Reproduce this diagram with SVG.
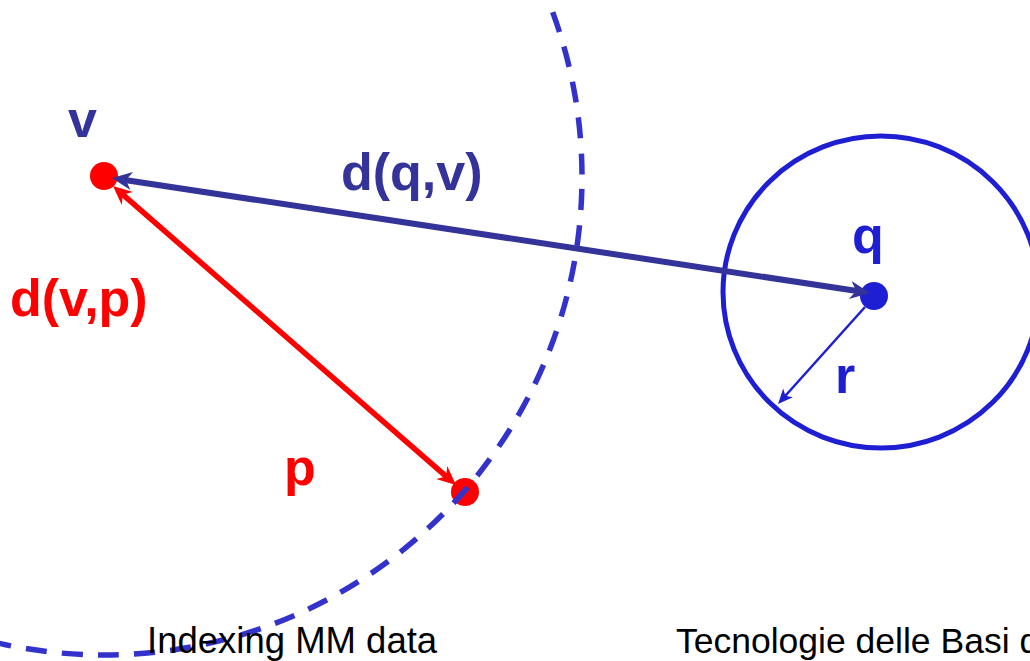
<svg xmlns="http://www.w3.org/2000/svg" width="1030" height="661" viewBox="0 0 1030 661">
  <style>
    .lbl { font-family: "Liberation Sans", Arial, sans-serif; font-weight: bold; font-size: 52px; }
    .foot { font-family: "Liberation Sans", Arial, sans-serif; fill: #000; }
    .navy { fill: #333399; }
    .blue { fill: #1E1ED2; }
    .red { fill: #FF0000; }
  </style>
  <defs>
    <marker id="headNavy" markerUnits="userSpaceOnUse" markerWidth="30" markerHeight="30" viewBox="-24 -15 30 30" refX="-8" refY="0" orient="auto-start-reverse">
      <path d="M0,0 L-20,-9 L-14,0 L-20,9 Z" fill="#333399"/>
    </marker>
    <marker id="headRed" markerUnits="userSpaceOnUse" markerWidth="30" markerHeight="30" viewBox="-24 -15 30 30" refX="-7" refY="0" orient="auto-start-reverse">
      <path d="M0,0 L-19,-8.5 L-13,0 L-19,8.5 Z" fill="#FF0000"/>
    </marker>
    <marker id="headBlue" markerUnits="userSpaceOnUse" markerWidth="24" markerHeight="24" viewBox="-18 -12 24 24" refX="-4" refY="0" orient="auto">
      <path d="M0,0 L-15,-6.5 L-11,0 L-15,6.5 Z" fill="#1E1ED2"/>
    </marker>
  </defs>
  <rect width="1030" height="661" fill="#FFFFFF"/>

  <g id="node-v">
    <circle cx="104" cy="176" r="14" class="red"/>
    <text x="68" y="137" class="lbl navy">v</text>
  </g>

  <g id="node-q">
    <ellipse cx="881" cy="292" rx="158" ry="156" fill="none" stroke="#1E1ED2" stroke-width="5"/>
    <circle cx="874" cy="296" r="14" class="blue"/>
    <text x="852" y="253" class="lbl blue">q</text>
  </g>

  <g id="connectors" fill="none">
    <line x1="119.9" y1="179.2" x2="862.1" y2="291.8" stroke="#333399" stroke-width="6" marker-start="url(#headNavy)" marker-end="url(#headNavy)"/>
    <line x1="118.3" y1="190.6" x2="450.7" y2="480.4" stroke="#FF0000" stroke-width="5.5" marker-start="url(#headRed)" marker-end="url(#headRed)"/>
    <line x1="865" y1="307" x2="780.7" y2="401" stroke="#1E1ED2" stroke-width="2.5" marker-end="url(#headBlue)"/>
    <text x="341" y="190" class="lbl navy">d(q,v)</text>
    <text x="10" y="316" class="lbl red">d(v,p)</text>
    <text x="835" y="393" class="lbl blue">r</text>
  </g>

  <g id="node-p">
    <circle cx="465" cy="492" r="14" class="red"/>
    <text x="284" y="485" class="lbl red">p</text>
  </g>

  <g id="range-vp">
    <circle cx="104" cy="177" r="478" fill="none" stroke="#3333CC" stroke-width="5.5" stroke-dasharray="21 15.185" stroke-dashoffset="24.1"/>
  </g>

  <g id="footer">
    <text x="147" y="653" class="foot" font-size="36.5">Indexing MM data</text>
    <text x="676" y="653" class="foot" font-size="35.5">Tecnologie delle Basi d</text>
  </g>
</svg>
